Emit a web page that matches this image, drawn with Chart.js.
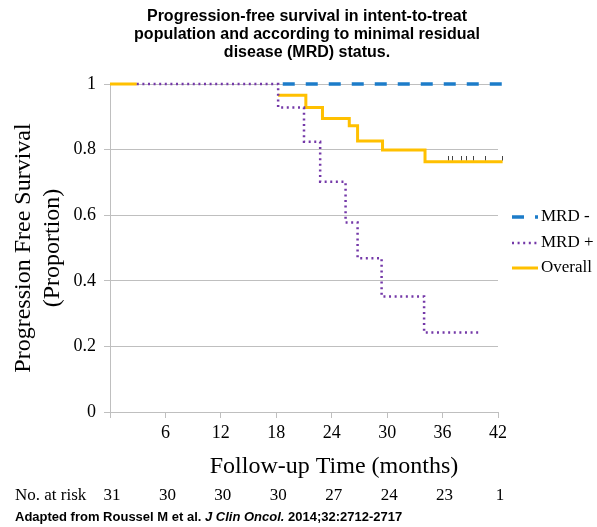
<!DOCTYPE html>
<html><head><meta charset="utf-8">
<script src="https://cdn.jsdelivr.net/npm/chart.js@4"></script>
<style>html,body{margin:0;padding:0;background:#fff;}canvas{display:block;}</style>
</head><body>
<canvas id="c" width="597" height="527"></canvas>
<script>
// ---------- data ----------
const titleLines = ['Progression-free survival in intent-to-treat', 'population and according to minimal residual', 'disease (MRD) status.'];
const yTitleLines = ['Progression Free Survival', '(Proportion)'];
const xTitle = 'Follow-up Time (months)';
const seriesNames = ['MRD -', 'MRD +', 'Overall'];

const mrdNegTimes = [18.7, 42.5];
const mrdNegSurv  = [1, 1];

const mrdPosTimes = [2.9, 18.2, 21.0, 22.75, 25.5, 26.8, 29.4, 34.0, 40.1];
const mrdPosSurv  = [1, 0.928, 0.824, 0.702, 0.578, 0.469, 0.352, 0.242, 0.242];

const overallTimes = [0, 2.9, 10, 18.2, 21.2, 23.0, 25.9, 26.8, 29.5, 34.1, 42.5];
const overallSurv  = [1, 1, null, 0.966, 0.928, 0.895, 0.873, 0.826, 0.799, 0.763, 0.763];

const censorTimes = [36.6, 37.1, 38.1, 38.6, 39.3, 40.7, 42.5];
const censorSurv  = [0.763, 0.763, 0.763, 0.763, 0.763, 0.763, 0.763];

const xTicks = [0, 6, 12, 18, 24, 30, 36, 42];
const yTicks = [0, 0.2, 0.4, 0.6, 0.8, 1];

const riskLabel = 'No. at risk';
const riskTimes = [0, 6, 12, 18, 24, 30, 36, 42];
const riskCounts = [31, 30, 30, 30, 27, 24, 23, 1];

const citeParts = [['Adapted from Roussel M et al. ', false], ['J Clin Oncol.', true], [' 2014;32:2712-2717', false]];
// ---------------------------------------------------

const pts = (xs, ys) => xs.map((x, i) => ({x: x, y: ys[i]}));
const SERIF = '"Liberation Serif", "Times New Roman", serif';
const SANS = '"Liberation Sans", Arial, sans-serif';

// censor mark: short vertical tick sitting just above the curve
const tickImg = document.createElement('canvas');
tickImg.width = 1; tickImg.height = 12;
(function(){ const g = tickImg.getContext('2d'); g.fillStyle = '#444'; g.fillRect(0, 0, 1, 5); })();

const decor = {
  id: 'decor',
  afterDraw(chart) {
    const ctx = chart.ctx, ca = chart.chartArea, xs = chart.scales.x;
    ctx.save();
    ctx.fillStyle = '#000';
    // title
    ctx.font = 'bold 16px ' + SANS;
    ctx.textAlign = 'center'; ctx.textBaseline = 'middle';
    const cx = (ca.left + ca.right) / 2 + 3;
    titleLines.forEach((t, i) => ctx.fillText(t, cx, 17 + i * 18));
    // y title
    ctx.font = '24px ' + SERIF;
    ctx.save();
    ctx.translate(0, (ca.top + ca.bottom) / 2);
    ctx.rotate(-Math.PI / 2);
    ctx.fillText(yTitleLines[0], 0, 24);
    ctx.fillText(yTitleLines[1], 0, 53);
    ctx.restore();
    // x title
    ctx.fillText(xTitle, 334, 467);
    // legend
    const ds = chart.data.datasets;
    const ly = [217, 243, 268];
    ctx.font = '17px ' + SERIF;
    ctx.textAlign = 'left';
    for (let i = 0; i < 3; i++) {
      ctx.save();
      ctx.strokeStyle = ds[i].borderColor;
      ctx.lineWidth = ds[i].borderWidth;
      ctx.setLineDash(ds[i].borderDash || []);
      ctx.beginPath(); ctx.moveTo(512, ly[i]); ctx.lineTo(538, ly[i]); ctx.stroke();
      ctx.restore();
      ctx.fillText(seriesNames[i], 541, ly[i]);
    }
    // at risk row
    ctx.font = '17px ' + SERIF;
    ctx.textAlign = 'left';
    ctx.fillText(riskLabel, 15, 496);
    ctx.textAlign = 'center';
    riskCounts.forEach((n, i) => ctx.fillText(String(n), xs.getPixelForValue(riskTimes[i]) + 2, 496));
    // citation
    ctx.textAlign = 'left';
    let x = 15;
    citeParts.forEach(([t, it]) => {
      ctx.font = (it ? 'italic ' : '') + 'bold 13px ' + SANS;
      ctx.fillText(t, x, 517);
      x += ctx.measureText(t).width;
    });
    ctx.restore();
  }
};

new Chart(document.getElementById('c'), {
  type: 'line',
  data: {
    datasets: [
      { label: seriesNames[0], data: pts(mrdNegTimes, mrdNegSurv), borderColor: '#1C7CC9', borderWidth: 3.5,
        borderDash: [12, 11], borderCapStyle: 'butt', stepped: true, pointRadius: 0, fill: false, clip: false },
      { label: seriesNames[1], data: pts(mrdPosTimes, mrdPosSurv), borderColor: '#7438A8', borderWidth: 2.5,
        borderDash: [2, 3.6], borderCapStyle: 'butt', stepped: true, pointRadius: 0, fill: false, clip: false },
      { label: seriesNames[2], data: pts(overallTimes, overallSurv), borderColor: '#FFC000', borderWidth: 3,
        stepped: true, pointRadius: 0, fill: false, spanGaps: false, clip: false },
      { label: 'censored', data: pts(censorTimes, censorSurv), showLine: false, pointStyle: tickImg,
        pointRadius: 6, clip: false }
    ]
  },
  options: {
    responsive: false, animation: false, devicePixelRatio: 1,
    layout: { padding: { left: 0, top: 84, right: 99, bottom: 0 } },
    plugins: { legend: { display: false }, title: { display: false }, tooltip: { enabled: false } },
    scales: {
      x: {
        type: 'linear', min: 0, max: 42,
        afterBuildTicks: s => { s.ticks = xTicks.map(v => ({value: v})); },
        afterFit: s => { s.height = 115; },
        ticks: { color: '#000', font: { family: SERIF, size: 18 }, padding: 4,
                 callback: v => v === 0 ? '' : String(v), maxRotation: 0, autoSkip: false },
        grid: { drawOnChartArea: false, drawTicks: true, tickLength: 6, color: '#BFBFBF' },
        border: { display: true, color: '#BFBFBF' }
      },
      y: {
        min: 0, max: 1,
        afterBuildTicks: s => { s.ticks = yTicks.map(v => ({value: v})); },
        afterFit: s => { s.width = 110; },
        ticks: { color: '#000', font: { family: SERIF, size: 18 }, padding: 8,
                 callback: v => String(Number(v.toFixed(1))) },
        grid: { color: '#BFBFBF', tickLength: 6 },
        border: { display: true, color: '#BFBFBF' }
      }
    }
  },
  plugins: [decor]
});
</script>
</body></html>
